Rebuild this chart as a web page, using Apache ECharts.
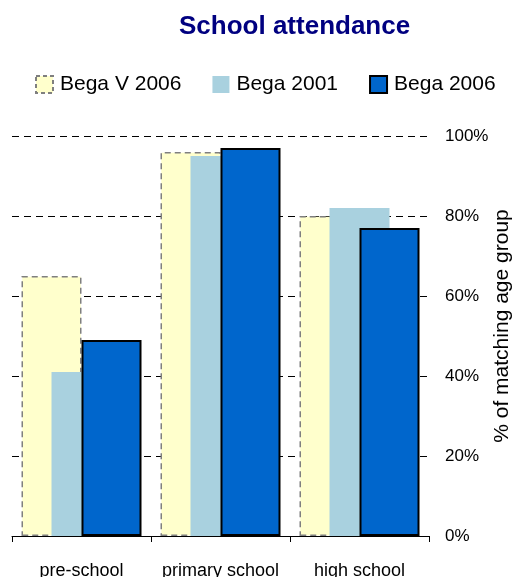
<!DOCTYPE html>
<html>
<head>
<meta charset="utf-8">
<script src="https://cdn.jsdelivr.net/npm/echarts@6/dist/echarts.min.js"></script>
<style>
html,body{margin:0;padding:0;background:#fff;}
#chart{width:514px;height:577px;}
</style>
</head>
<body>
<div id="chart"></div>
<script>
var categories = ['pre-school', 'primary school', 'high school'];
var begaV2006 = [65, 96, 80];
var bega2001 = [41, 95, 82];
var bega2006 = [49, 97, 77];
var yTicks = [0, 20, 40, 60, 80, 100];

var font = 'Liberation Sans';
var myChart = echarts.init(document.getElementById('chart'));

var option = {
    animation: false,
    title: {
        text: 'School attendance',
        left: 174,
        top: 9,
        textStyle: {
            fontFamily: font,
            fontSize: 26,
            fontWeight: 'bold',
            color: '#000080'
        }
    },
    legend: {
        left: 35,
        top: 74,
        padding: 0,
        icon: 'rect',
        itemWidth: 17,
        itemHeight: 17,
        itemGap: 31,
        textStyle: {fontFamily: font, fontSize: 21, color: '#000', padding: [0, 0, 0, 2]},
        data: [
            {name: 'Bega V 2006', itemStyle: {borderType: [4, 3]}},
            'Bega 2001',
            'Bega 2006'
        ]
    },
    grid: {left: 12, right: 85, top: 136, bottom: 41, containLabel: false, outerBoundsMode: 'none'},
    xAxis: {
        type: 'category',
        data: categories,
        axisLine: {lineStyle: {color: '#000', width: 1}},
        axisTick: {show: true, length: 6, lineStyle: {color: '#000'}},
        axisLabel: {fontFamily: font, fontSize: 18, color: '#000', margin: 26, interval: 0, hideOverlap: false}
    },
    yAxis: {
        type: 'value',
        position: 'right',
        min: yTicks[0],
        max: yTicks[yTicks.length - 1],
        interval: 20,
        name: '% of matching age group',
        nameLocation: 'middle',
        nameRotate: 90,
        nameGap: 63,
        nameMoveOverlap: false,
        nameTextStyle: {fontFamily: font, fontSize: 21, color: '#000', padding: [0, 0, 0, 20]},
        axisLine: {show: false},
        axisTick: {show: false},
        axisLabel: {fontFamily: font, fontSize: 17, color: '#000', margin: 16, formatter: '{value}%'},
        splitLine: {show: true, lineStyle: {color: '#000', width: 1, type: [7, 5]}}
    },
    series: [
        {
            name: 'Bega V 2006',
            type: 'bar',
            barWidth: 60,
            barGap: '-50%',
            data: begaV2006,
            itemStyle: {color: '#FFFFCC', borderColor: '#7f7f7f', borderWidth: 1.5, borderType: [6, 4]}
        },
        {
            name: 'Bega 2001',
            type: 'bar',
            barWidth: 60,
            barGap: '-50%',
            data: bega2001,
            itemStyle: {color: '#A9D1DF'}
        },
        {
            name: 'Bega 2006',
            type: 'bar',
            barWidth: 60,
            barGap: '-50%',
            data: bega2006,
            itemStyle: {color: '#0066CC', borderColor: '#000', borderWidth: 2}
        }
    ]
};
myChart.setOption(option);
</script>
</body>
</html>
